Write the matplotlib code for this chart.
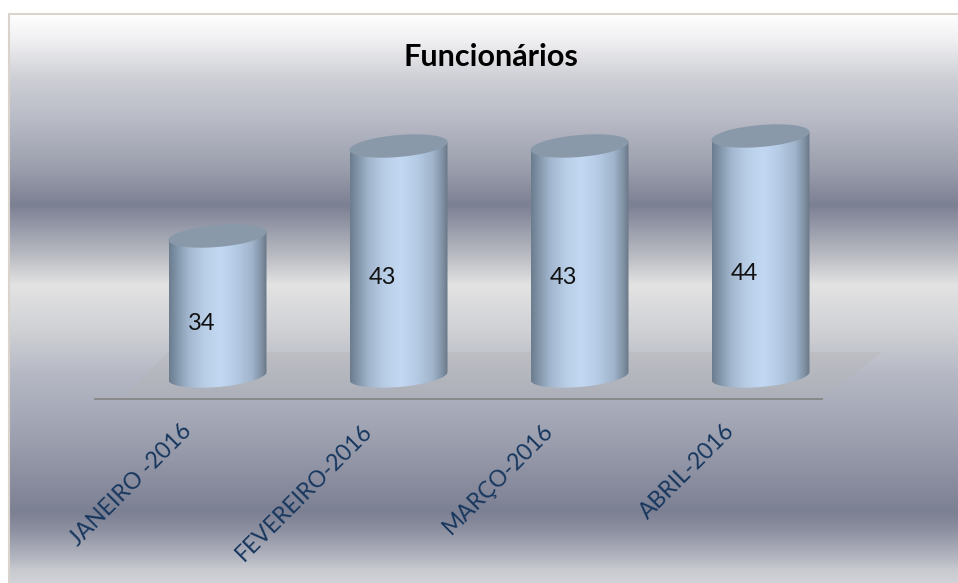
import numpy as np
import matplotlib
matplotlib.use("Agg")
import matplotlib.pyplot as plt
from matplotlib.colors import LinearSegmentedColormap, to_rgb
from matplotlib.patches import Polygon
from matplotlib.path import Path
from matplotlib.transforms import ScaledTranslation, IdentityTransform

categories = ["JANEIRO -2016", "FEVEREIRO-2016", "MARÇO-2016", "ABRIL-2016"]
values = [34, 43, 43, 44]
title = "Funcionários"
axis_floor = 20  # value where the cylinders' base sits

W, H = 958, 583
plt.rcParams["font.family"] = ["Lato", "DejaVu Sans"]
fig = plt.figure(figsize=(W / 100, H / 100), dpi=100, facecolor="white")

# ---------- background (pixel coordinates) ----------
bg = fig.add_axes([0, 0, 1, 1], zorder=0)
bg.set_xlim(0, W); bg.set_ylim(H, 0); bg.axis("off")
F_L, F_T, F_R, F_B = 9.5, 13.5, W, H
stops = [(14, "#ffffff"), (40, "#f0f0f2"), (80, "#cdced5"), (120, "#b8bbc6"), (170, "#9a9dab"),
         (205, "#7c8093"), (230, "#9a9dab"), (260, "#c0c1c7"), (285, "#e3e3e3"),
         (330, "#d0d1d5"), (375, "#b5b8c4"), (440, "#9c9fae"), (512, "#7c8093"),
         (530, "#8d90a0"), (560, "#b7b9c3"), (570, "#c9cacf"), (583, "#d2d3d7")]
ys = np.arange(F_T, F_B, 1.0)
rgb = np.array([to_rgb(c) for _, c in stops])
pos = [p for p, _ in stops]
grad = np.stack([np.interp(ys, pos, rgb[:, k]) for k in range(3)], axis=1)[:, None, :]
bg.imshow(grad, extent=(F_L, F_R, F_B, F_T), aspect="auto", interpolation="nearest", zorder=1)
bg.set_xlim(0, W); bg.set_ylim(H, 0)
bg.plot([F_L, F_L, F_R], [F_B, F_T, F_T], color="#d9d3cb", lw=1.5, zorder=5)
bg.add_patch(Polygon([(168, 352), (882, 352), (822, 399), (122, 399)], closed=True,
                     fc="#b4b4b4", alpha=0.32, ec="none", zorder=2))

# ---------- data axes ----------
AX_L, AX_R, AX_T, AX_B = 95.0, 822.0, 13.0, 399.0
ax = fig.add_axes([AX_L / W, 1 - AX_B / H, (AX_R - AX_L) / W, (AX_B - AX_T) / H], zorder=1)
ax.patch.set_alpha(0)
X0, DX = 217.5, 181.0   # pixel of first category, pixels per category
BASE_PX, DY = 376.0, 10.0  # pixel of axis_floor, pixels per unit
ax.set_xlim((AX_L - X0) / DX, (AX_R - X0) / DX)
ax.set_ylim(axis_floor - (AX_B - BASE_PX) / DY, axis_floor + (BASE_PX - AX_T) / DY)
for s in ["top", "left", "right"]:
    ax.spines[s].set_visible(False)
ax.spines["bottom"].set_color("#8a8a8a")
ax.spines["bottom"].set_linewidth(1.4)
ax.set_yticks([])
ax.set_xticks(range(len(categories)))
ax.set_xticklabels(categories, rotation=45, ha="right", va="top", rotation_mode="anchor",
                   fontsize=16.5, color="#17375e")
ax.tick_params(axis="x", length=0, pad=0)
off = ScaledTranslation(-37 / 100, -21 / 100, fig.dpi_scale_trans)
for lab in ax.get_xticklabels():
    lab.set_transform(lab.get_transform() + off)

cyl = LinearSegmentedColormap.from_list("cyl", [
    (0.00, "#6c7d8f"), (0.07, "#7f92a6"), (0.20, "#a3b8cf"), (0.35, "#b8cde6"),
    (0.52, "#c3d9f3"), (0.68, "#b6cbe5"), (0.85, "#a0b4cb"), (0.95, "#7f90a3"), (1.00, "#6a7888")])

HALF_W, SLOPE, MINOR = 49.0, -4.0, 11.0
label_dx = -16.0
label_drop = 1.7
t = np.linspace(0, 2 * np.pi, 121)
rect_bars = ax.bar(range(len(values)), np.array(values) - axis_floor, bottom=axis_floor,
                   width=2 * HALF_W / DX, color="none", zorder=1)
for i, v in enumerate(values):
    cx, top = ax.transData.transform((i, v))
    _, bot = ax.transData.transform((i, axis_floor))
    ex = HALF_W * np.cos(t)
    ey = -SLOPE * np.cos(t) + MINOR * np.sin(t)
    tb = np.linspace(np.pi, 2 * np.pi, 61)
    bx = cx + HALF_W * np.cos(tb)
    by = bot - SLOPE * np.cos(tb) + MINOR * np.sin(tb)
    verts = np.vstack([[cx - HALF_W, top + SLOPE], np.c_[bx, by], [cx + HALF_W, top - SLOPE]])
    clip = Path(verts)
    gx = np.linspace(0, 1, 200)[None, :]
    im = ax.imshow(gx, cmap=cyl, extent=(cx - HALF_W, cx + HALF_W, bot - 20, top + 20), aspect="auto",
                   transform=IdentityTransform(), zorder=2, interpolation="bilinear")
    im.set_clip_path(clip, transform=IdentityTransform())
    lid = Polygon(np.c_[cx + ex, top + ey], closed=True, fc="#8a99aa", ec="none",
                  transform=IdentityTransform(), zorder=3)
    ax.add_patch(lid)
    ax.annotate(str(v), xy=(i, v), xycoords="data",
                xytext=(i + label_dx / DX, (axis_floor + v) / 2 - label_drop),
                textcoords="data", ha="center", va="center", fontsize=17, color="#111111", zorder=4)
ax.set_xlim((AX_L - X0) / DX, (AX_R - X0) / DX)
ax.set_ylim(axis_floor - (AX_B - BASE_PX) / DY, axis_floor + (BASE_PX - AX_T) / DY)
ax.set_aspect("auto")

fig.text(491 / W, 1 - 57 / H, title, ha="center", va="center", fontsize=22, fontweight="bold", color="#000000")
fig.savefig("out.png", dpi=100, facecolor="white")
